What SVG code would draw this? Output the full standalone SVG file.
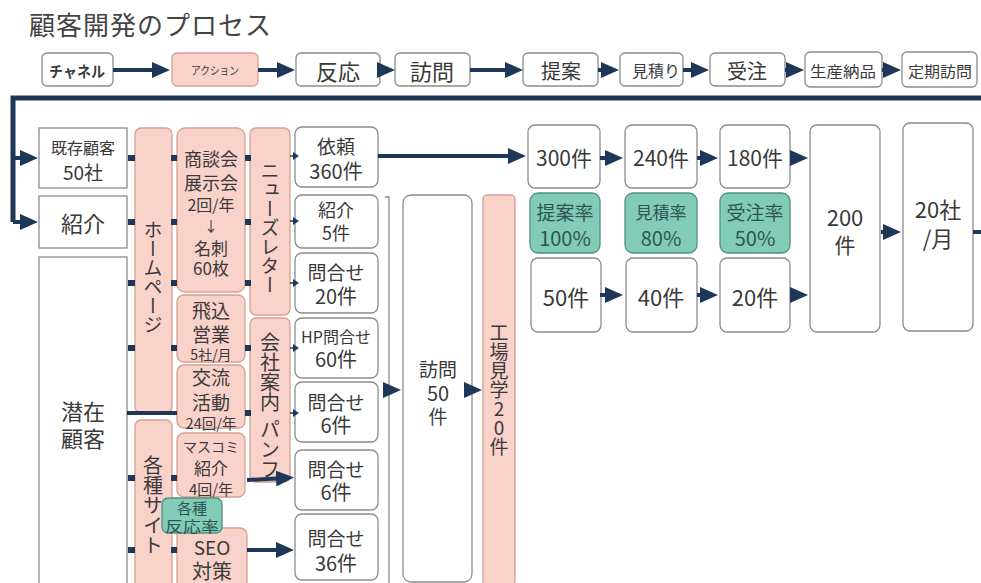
<svg xmlns="http://www.w3.org/2000/svg" width="981" height="583" viewBox="0 0 981 583">
<style>
text{font-family:"Noto Sans CJK JP","Noto Sans",sans-serif;fill:#3a3a3a;dominant-baseline:central;text-anchor:middle}
.w{fill:#fff;stroke:#8c8c8c;stroke-width:1.3}
.sq{fill:#fff;stroke:#8c8c8c;stroke-width:1.3}
.p{fill:#f9d2ca;stroke:#d6a093;stroke-width:1.3}
.t{fill:#82cbb7;stroke:#4f9282;stroke-width:1.3}
.tt{fill:#2f5550}
.v{writing-mode:vertical-rl}
.up{text-orientation:upright}
.ln{stroke:#1e3759;stroke-width:4;fill:none}
.ar{stroke:#1e3759;stroke-width:4;fill:none;marker-end:url(#ah)}
.as{stroke:#1e3759;stroke-width:1.5;fill:none;marker-end:url(#as)}
.dot{fill:#1e3759}
</style>
<defs>
<marker id="ah" viewBox="0 0 18 16" refX="10" refY="8" markerWidth="18" markerHeight="16" markerUnits="userSpaceOnUse" orient="auto"><path d="M0,0 L18,8 L0,16 Z" fill="#1e3759"/></marker>
<marker id="as" viewBox="0 0 6 8" refX="1" refY="4" markerWidth="6" markerHeight="8" markerUnits="userSpaceOnUse" orient="auto"><path d="M0,0 L6,4 L0,8 Z" fill="#1e3759"/></marker>
</defs>
<rect width="981" height="583" fill="#fff"/>
<text x="29" y="23" style="font-size:26px;text-anchor:start;fill:#444;letter-spacing:1px">顧客開発のプロセス</text>

<g id="n-channel"><rect class="w" x="42" y="53" width="71" height="33" rx="5"/><text x="77" y="70" style="font-size:15px;font-weight:bold" textLength="56" lengthAdjust="spacingAndGlyphs">チャネル</text></g>
<g id="n-action"><rect class="p" x="172" y="53" width="86" height="33" rx="5"/><text x="215" y="70" style="font-size:11px" textLength="48" lengthAdjust="spacingAndGlyphs">アクション</text></g>
<g id="n-hanno"><rect class="w" x="296" y="53" width="84" height="33" rx="5"/><text x="338" y="70" style="font-size:22px">反応</text></g>
<g id="n-houmon"><rect class="w" x="395" y="53" width="75" height="33" rx="5"/><text x="432" y="70" style="font-size:22px">訪問</text></g>
<g id="n-teian"><rect class="w" x="523" y="53" width="75" height="33" rx="5"/><text x="561" y="70" style="font-size:20px">提案</text></g>
<g id="n-mitsumori"><rect class="w" x="620" y="53" width="63" height="33" rx="5"/><text x="656" y="70" style="font-size:16px">見積り</text></g>
<g id="n-juchu"><rect class="w" x="710" y="53" width="75" height="33" rx="5"/><text x="747" y="70" style="font-size:20px">受注</text></g>
<g id="n-seisan"><rect class="w" x="805" y="52" width="77" height="35" rx="5"/><text x="843" y="70" style="font-size:15px" textLength="66" lengthAdjust="spacingAndGlyphs">生産納品</text></g>
<g id="n-teiki"><rect class="w" x="902" y="52" width="75" height="35" rx="5"/><text x="940" y="70" style="font-size:15px" textLength="64" lengthAdjust="spacingAndGlyphs">定期訪問</text></g>

<g id="n-kizon"><rect class="sq" x="39" y="128" width="88" height="60"/><text x="83" y="147" style="font-size:16px">既存顧客</text><text x="83" y="171" style="font-size:19px">50社</text></g>
<g id="n-shokai-l"><rect class="sq" x="39" y="196" width="88" height="52"/><text x="83" y="222" style="font-size:22px">紹介</text></g>
<g id="n-senzai"><rect class="sq" x="39" y="257" width="88" height="340"/><text x="83" y="410" style="font-size:22px">潜在</text><text x="83" y="437" style="font-size:22px">顧客</text></g>

<g id="n-homepage"><rect class="p" x="135" y="128" width="37" height="285" rx="6"/><text class="v" x="153" y="277" style="font-size:19px">ホームページ</text></g>
<g id="n-sites"><rect class="p" x="135" y="420" width="37" height="175" rx="6"/><text class="v" x="153" y="505" style="font-size:20px">各種サイト</text></g>

<g id="n-shodankai"><rect class="p" x="177" y="128" width="68" height="164" rx="8"/>
<text x="211" y="158" style="font-size:18px">商談会</text><text x="211" y="182" style="font-size:18px">展示会</text><text x="211" y="204" style="font-size:16px">2回/年</text><text x="211" y="225" style="font-size:14px">↓</text><text x="211" y="247" style="font-size:17px">名刺</text><text x="211" y="267" style="font-size:17px">60枚</text></g>
<g id="n-tobikomi"><rect class="p" x="177" y="295" width="68" height="67" rx="7"/><text x="211" y="309" style="font-size:19px">飛込</text><text x="211" y="333" style="font-size:19px">営業</text><text x="211" y="354" style="font-size:14px">5社/月</text></g>
<g id="n-koryu"><rect class="p" x="177" y="365" width="68" height="63" rx="7"/><text x="211" y="376" style="font-size:19px">交流</text><text x="211" y="401" style="font-size:19px">活動</text><text x="211" y="422" style="font-size:14.5px">24回/年</text></g>
<g id="n-masukomi"><rect class="p" x="177" y="433" width="68" height="64" rx="7"/><text x="211" y="446" style="font-size:14px">マスコミ</text><text x="211" y="467" style="font-size:17px">紹介</text><text x="211" y="488" style="font-size:15px">4回/年</text></g>
<g id="n-seo"><rect class="p" x="177" y="528" width="70" height="70" rx="7"/><text x="212" y="546" style="font-size:19px">SEO</text><text x="212" y="570" style="font-size:20px">対策</text></g>
<g id="n-hannoritsu"><rect class="t" x="162" y="498" width="60" height="35" rx="6"/><text class="tt" x="192" y="507" style="font-size:15px">各種</text><text class="tt" x="192" y="525" style="font-size:15px" textLength="54" lengthAdjust="spacingAndGlyphs">反応率</text></g>

<g id="n-newsletter"><rect class="p" x="250" y="128" width="40" height="187" rx="6"/><text class="v" x="270" y="228" style="font-size:19px">ニューズレター</text></g>
<g id="n-pamph"><rect class="p" x="250" y="318" width="40" height="164" rx="6"/><text class="v" x="270" y="372" style="font-size:20px">会社案内</text><text class="v" x="270" y="449" style="font-size:20px">パンフ</text></g>

<g id="n-irai"><rect class="w" x="295" y="127" width="83" height="60" rx="7"/><text x="336" y="145" style="font-size:19px">依頼</text><text x="336" y="170" style="font-size:20px">360件</text></g>
<g id="n-shokai5"><rect class="w" x="295" y="195" width="83" height="53" rx="7"/><text x="336" y="209" style="font-size:18px">紹介</text><text x="336" y="232" style="font-size:18px">5件</text></g>
<g id="n-toi20"><rect class="w" x="295" y="253" width="83" height="60" rx="7"/><text x="336" y="271" style="font-size:19px">問合せ</text><text x="336" y="295" style="font-size:20px">20件</text></g>
<g id="n-hp60"><rect class="w" x="295" y="318" width="83" height="60" rx="7"/><text x="336" y="336" style="font-size:16px">HP問合せ</text><text x="336" y="358" style="font-size:20px">60件</text></g>
<g id="n-toi6a"><rect class="w" x="295" y="382" width="83" height="60" rx="7"/><text x="336" y="401" style="font-size:19px">問合せ</text><text x="336" y="424" style="font-size:20px">6件</text></g>
<g id="n-toi6b"><rect class="w" x="295" y="450" width="83" height="60" rx="7"/><text x="336" y="468" style="font-size:19px">問合せ</text><text x="336" y="491" style="font-size:20px">6件</text></g>
<g id="n-toi36"><rect class="w" x="295" y="514" width="83" height="66" rx="7"/><text x="336" y="537" style="font-size:19px">問合せ</text><text x="336" y="562" style="font-size:20px">36件</text></g>

<g id="n-houmon50"><rect class="w" x="403" y="195" width="69" height="387" rx="8"/><text x="438" y="368" style="font-size:19px">訪問</text><text x="438" y="392" style="font-size:20px">50</text><text x="438" y="415" style="font-size:19px">件</text></g>
<g id="n-kojo"><rect class="p" x="483" y="195" width="32" height="390" rx="4"/><text class="v up" x="499" y="390" style="font-size:19px">工場見学20件</text></g>

<g id="n-300"><rect class="w" x="528" y="125" width="72" height="63" rx="7"/><text x="564" y="157" style="font-size:21px">300件</text></g>
<g id="n-240"><rect class="w" x="625" y="125" width="72" height="63" rx="7"/><text x="661" y="157" style="font-size:21px">240件</text></g>
<g id="n-180"><rect class="w" x="720" y="125" width="70" height="63" rx="7"/><text x="755" y="157" style="font-size:21px">180件</text></g>
<g id="n-teianritsu"><rect class="t" x="530" y="193" width="70" height="60" rx="8"/><text class="tt" x="565" y="211" style="font-size:19px">提案率</text><text class="tt" x="565" y="237" style="font-size:20px">100%</text></g>
<g id="n-mitsuritsu"><rect class="t" x="625" y="193" width="72" height="60" rx="8"/><text class="tt" x="661" y="211" style="font-size:17px">見積率</text><text class="tt" x="661" y="237" style="font-size:20px">80%</text></g>
<g id="n-juchuritsu"><rect class="t" x="720" y="193" width="70" height="60" rx="8"/><text class="tt" x="755" y="211" style="font-size:19px">受注率</text><text class="tt" x="755" y="237" style="font-size:20px">50%</text></g>
<g id="n-50"><rect class="w" x="531" y="258" width="70" height="74" rx="7"/><text x="566" y="296" style="font-size:22px">50件</text></g>
<g id="n-40"><rect class="w" x="626" y="258" width="71" height="74" rx="7"/><text x="661" y="296" style="font-size:22px">40件</text></g>
<g id="n-20"><rect class="w" x="720" y="258" width="70" height="74" rx="7"/><text x="755" y="296" style="font-size:22px">20件</text></g>
<g id="n-200"><rect class="w" x="810" y="125" width="70" height="207" rx="7"/><text x="845" y="216" style="font-size:22px">200</text><text x="845" y="244" style="font-size:21px">件</text></g>
<g id="n-20sha"><rect class="w" x="903" y="123" width="70" height="208" rx="7"/><text x="938" y="208" style="font-size:22px">20社</text><text x="938" y="237" style="font-size:22px">/月</text></g>

<g id="connectors">
<line class="ar" x1="113" y1="70" x2="162" y2="70"/>
<line class="ar" x1="258" y1="70" x2="287" y2="70"/>
<line class="ar" x1="380" y1="70" x2="387" y2="70"/>
<line class="ar" x1="470" y1="70" x2="515" y2="70"/>
<line class="ar" x1="598" y1="70" x2="611" y2="70"/>
<line class="ar" x1="683" y1="70" x2="701" y2="70"/>
<line class="ar" x1="785" y1="70" x2="796" y2="70"/>
<line class="ar" x1="882" y1="70" x2="893" y2="70"/>
<path class="ln" d="M981,98 H13 V222" style="stroke-width:5"/>
<line class="ar" x1="13" y1="158" x2="30" y2="158"/>
<line class="ar" x1="13" y1="222" x2="30" y2="222"/>
<g class="dot">
<rect x="128" y="155" width="7" height="6"/><rect x="171" y="155" width="6" height="6"/><rect x="245" y="155" width="6" height="6"/>
<rect x="128" y="219" width="7" height="6"/><rect x="171" y="219" width="6" height="6"/><rect x="245" y="219" width="6" height="6"/>
<rect x="128" y="280" width="7" height="6"/><rect x="171" y="280" width="6" height="6"/><rect x="245" y="280" width="6" height="6"/>
<rect x="128" y="345" width="7" height="6"/><rect x="171" y="345" width="6" height="6"/><rect x="245" y="345" width="6" height="6"/>
<rect x="245" y="410" width="6" height="6"/>
<rect x="128" y="475" width="7" height="6"/><rect x="171" y="475" width="6" height="6"/>
<rect x="128" y="547" width="7" height="6"/><rect x="171" y="547" width="6" height="6"/>
</g>
<line class="ln" x1="127" y1="413" x2="177" y2="413"/>
<line class="as" x1="290" y1="156" x2="294" y2="156"/>
<line class="as" x1="290" y1="221" x2="294" y2="221"/>
<line class="as" x1="290" y1="283" x2="294" y2="283"/>
<line class="as" x1="290" y1="348" x2="294" y2="348"/>
<line class="as" x1="290" y1="413" x2="294" y2="413"/>
<line class="ar" x1="247" y1="480" x2="286" y2="478"/>
<line class="ar" x1="247" y1="550" x2="286" y2="550"/>
<path d="M385,197 H389 V583" fill="none" stroke="#8c8c8c" stroke-width="1.3"/>
<line class="ar" x1="385" y1="390" x2="393" y2="390"/>
<line class="ar" x1="467" y1="390" x2="474" y2="390"/>
<line class="ar" x1="378" y1="156" x2="518" y2="156"/>
<line class="ar" x1="600" y1="158" x2="615" y2="158"/>
<line class="ar" x1="697" y1="158" x2="710" y2="158"/>
<line class="ar" x1="791" y1="158" x2="800" y2="158"/>
<line class="ar" x1="600" y1="295" x2="615" y2="295"/>
<line class="ar" x1="697" y1="295" x2="710" y2="295"/>
<line class="ar" x1="791" y1="295" x2="800" y2="295"/>
<line class="ar" x1="881" y1="232" x2="893" y2="232"/>
<line class="ln" x1="973" y1="232" x2="981" y2="232"/>
</g>
</svg>
